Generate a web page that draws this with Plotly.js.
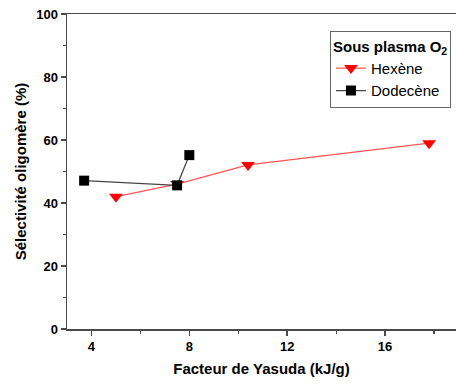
<!DOCTYPE html>
<html><head><meta charset="utf-8">
<script src="https://cdn.plot.ly/plotly-3.0.1.min.js"></script>
<style>body{margin:0;background:#fff}#c{width:456px;height:387px}</style>
</head><body><div id="c"></div>
<script>
const hexeneX = [5.0, 7.5, 10.4, 17.8];
const hexeneY = [42.0, 46.0, 52.1, 59.0];
const dodeceneX = [3.7, 7.5, 8.0];
const dodeceneY = [47.1, 45.6, 55.2];
const xTicks = [4, 8, 12, 16];
const yTicks = [0, 20, 40, 60, 80, 100];

const axisCol = '#4a4a4a';
const traces = [
  {x: hexeneX, y: hexeneY, name: 'Hexène', mode: 'lines+markers',
   line: {color: '#ff5555', width: 1.3},
   marker: {symbol: 'triangle-down', size: 12, color: '#ff0000'}},
  {x: dodeceneX, y: dodeceneY, name: 'Dodecène', mode: 'lines+markers',
   line: {color: '#444444', width: 1.3},
   marker: {symbol: 'square', size: 10, color: '#000000'}}
];
const layout = {
  width: 456, height: 387,
  margin: {l: 67, r: 0, t: 14, b: 58},
  paper_bgcolor: '#fff', plot_bgcolor: '#fff',
  font: {family: '"Liberation Sans", Arial, sans-serif', color: '#000'},
  showlegend: true,
  legend: {x: 0.676, y: 0.945, xanchor: 'left', yanchor: 'top',
    bordercolor: '#666', borderwidth: 1, bgcolor: '#fff',
    font: {size: 15, color: '#000'}, tracegroupgap: 0, itemwidth: 30,
    title: {text: '<b>Sous plasma O<sub>2</sub></b>', font: {size: 15}}},
  xaxis: {range: [3.0, 18.9], tickvals: xTicks, ticktext: xTicks.map(v => '<b>' + v + '</b>'),
    ticks: 'outside', ticklen: 5, tickwidth: 1.5, tickcolor: axisCol,
    showline: true, linecolor: axisCol, linewidth: 1.5, mirror: true,
    showgrid: false, zeroline: false, tickfont: {size: 13},
    minor: {tickvals: [6, 10, 14, 18], ticks: 'outside', ticklen: 3, tickcolor: axisCol, tickwidth: 1.2},
    title: {text: '<b>Facteur de Yasuda (kJ/g)</b>', font: {size: 15}, standoff: 10}},
  yaxis: {range: [0, 100], tickvals: yTicks, ticktext: yTicks.map(v => '<b>' + v + '</b>'),
    ticks: 'outside', ticklen: 5, tickwidth: 1.5, tickcolor: axisCol,
    showline: true, linecolor: axisCol, linewidth: 1.5, mirror: true,
    showgrid: false, zeroline: false, tickfont: {size: 13},
    minor: {tickvals: [10, 30, 50, 70, 90], ticks: 'outside', ticklen: 3, tickcolor: axisCol, tickwidth: 1.2},
    title: {text: '<b>Sélectivité oligomère (%)</b>', font: {size: 15}, standoff: 6}}
};
Plotly.newPlot('c', traces, layout, {displayModeBar: false, staticPlot: true});
</script></body></html>
